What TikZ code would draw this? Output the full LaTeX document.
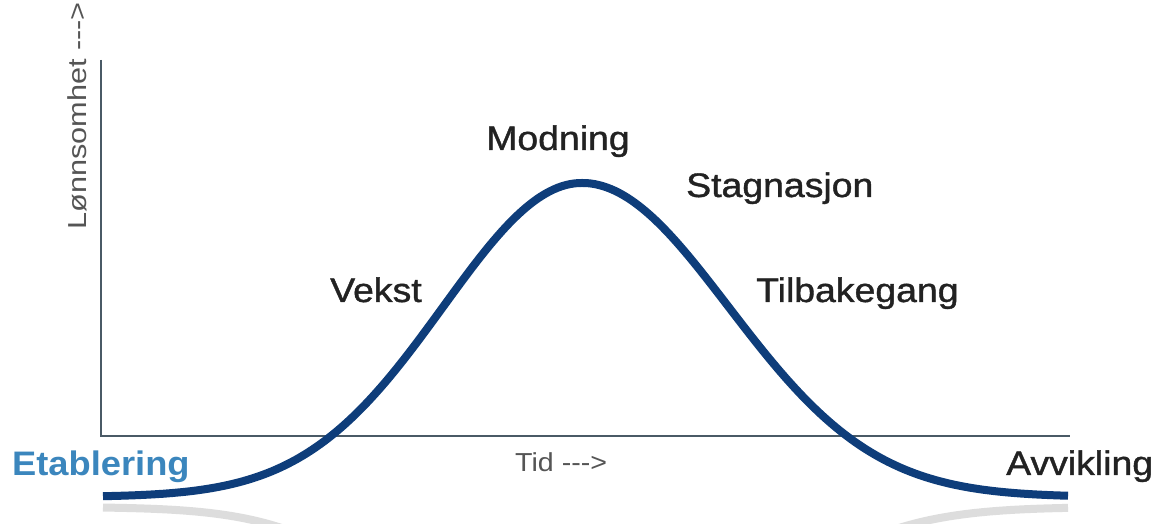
\documentclass[tikz,border=0pt]{standalone}
\usepackage{fontspec}
\setmainfont{Liberation Sans}
\newfontfamily\medfont{Liberation Sans}[FakeBold=1.1]
\definecolor{curveblue}{HTML}{0E3D7A}
\definecolor{etabblue}{HTML}{3B86BD}
\definecolor{axisgray}{HTML}{4A5A66}
\definecolor{textdark}{HTML}{222222}
\definecolor{smallgray}{HTML}{555555}
\tikzset{
  stage/.style={anchor=base west, inner sep=0pt, text=textdark, font=\medfont\fontsize{34}{36}\selectfont, xscale=1.1, transform shape},
  axislabel/.style={anchor=base west, inner sep=0pt, text=smallgray, font=\fontsize{26}{28}\selectfont},
  axisline/.style={draw=axisgray, line width=2.2pt},
  curveline/.style={draw=curveblue, line width=8pt, line join=round},
  shadowline/.style={draw=black!22, line width=8pt, opacity=0.6},
}
\begin{document}
\begin{tikzpicture}[x=1pt,y=1pt]
\useasboundingbox (0,0) rectangle (1161,524);
\fill[white] (0,0) rectangle (1161,524);
% axes
\coordinate (ytop) at (101,464);
\coordinate (origin) at (101,88);
\coordinate (xend) at (1070,88);
\draw[axisline] (ytop) -- (origin) -- (xend);
% shadows
\begin{scope}
\clip (0,0) rectangle (1161,524);
\draw[shadowline] plot[domain=103:300,samples=80] (\x,{17-0.7*314*exp(-((\x-582)/100)^2/3.846)});
\draw[shadowline] plot[domain=880:1068,samples=80] (\x,{17-0.7*314*exp(-((\x-582)/100)^2/4.28)});
\end{scope}
% curve
\draw[curveline] plot[domain=103:582,samples=120] (\x,{27+314*exp(-((\x-582)/100)^2/3.846)})
  -- plot[domain=582:1068,samples=120] (\x,{27+314*exp(-((\x-582)/100)^2/4.28)});
% labels
\node[stage] (modning) at (486,374) {Modning};
\node[stage] (stagnasjon) at (686,327) {Stagnasjon};
\node[stage] (vekst) at (330,222) {Vekst};
\node[stage] (tilbakegang) at (756,222) {Tilbakegang};
\node[stage, xscale=0.97, text=etabblue, font=\bfseries\fontsize{34}{36}\selectfont] (etablering) at (12,48) {Etablering};
\node[stage] (avvikling) at (1006,49) {Avvikling};
\node[axislabel] (tid) at (515,52) {\scalebox{1.1}[1]{Tid -{}-{}->}};
\node[axislabel, rotate=90] (lonn) at (86,294) {\scalebox{1.18}[1]{Lønnsomhet -{}-{}->}};
\end{tikzpicture}
\end{document}
